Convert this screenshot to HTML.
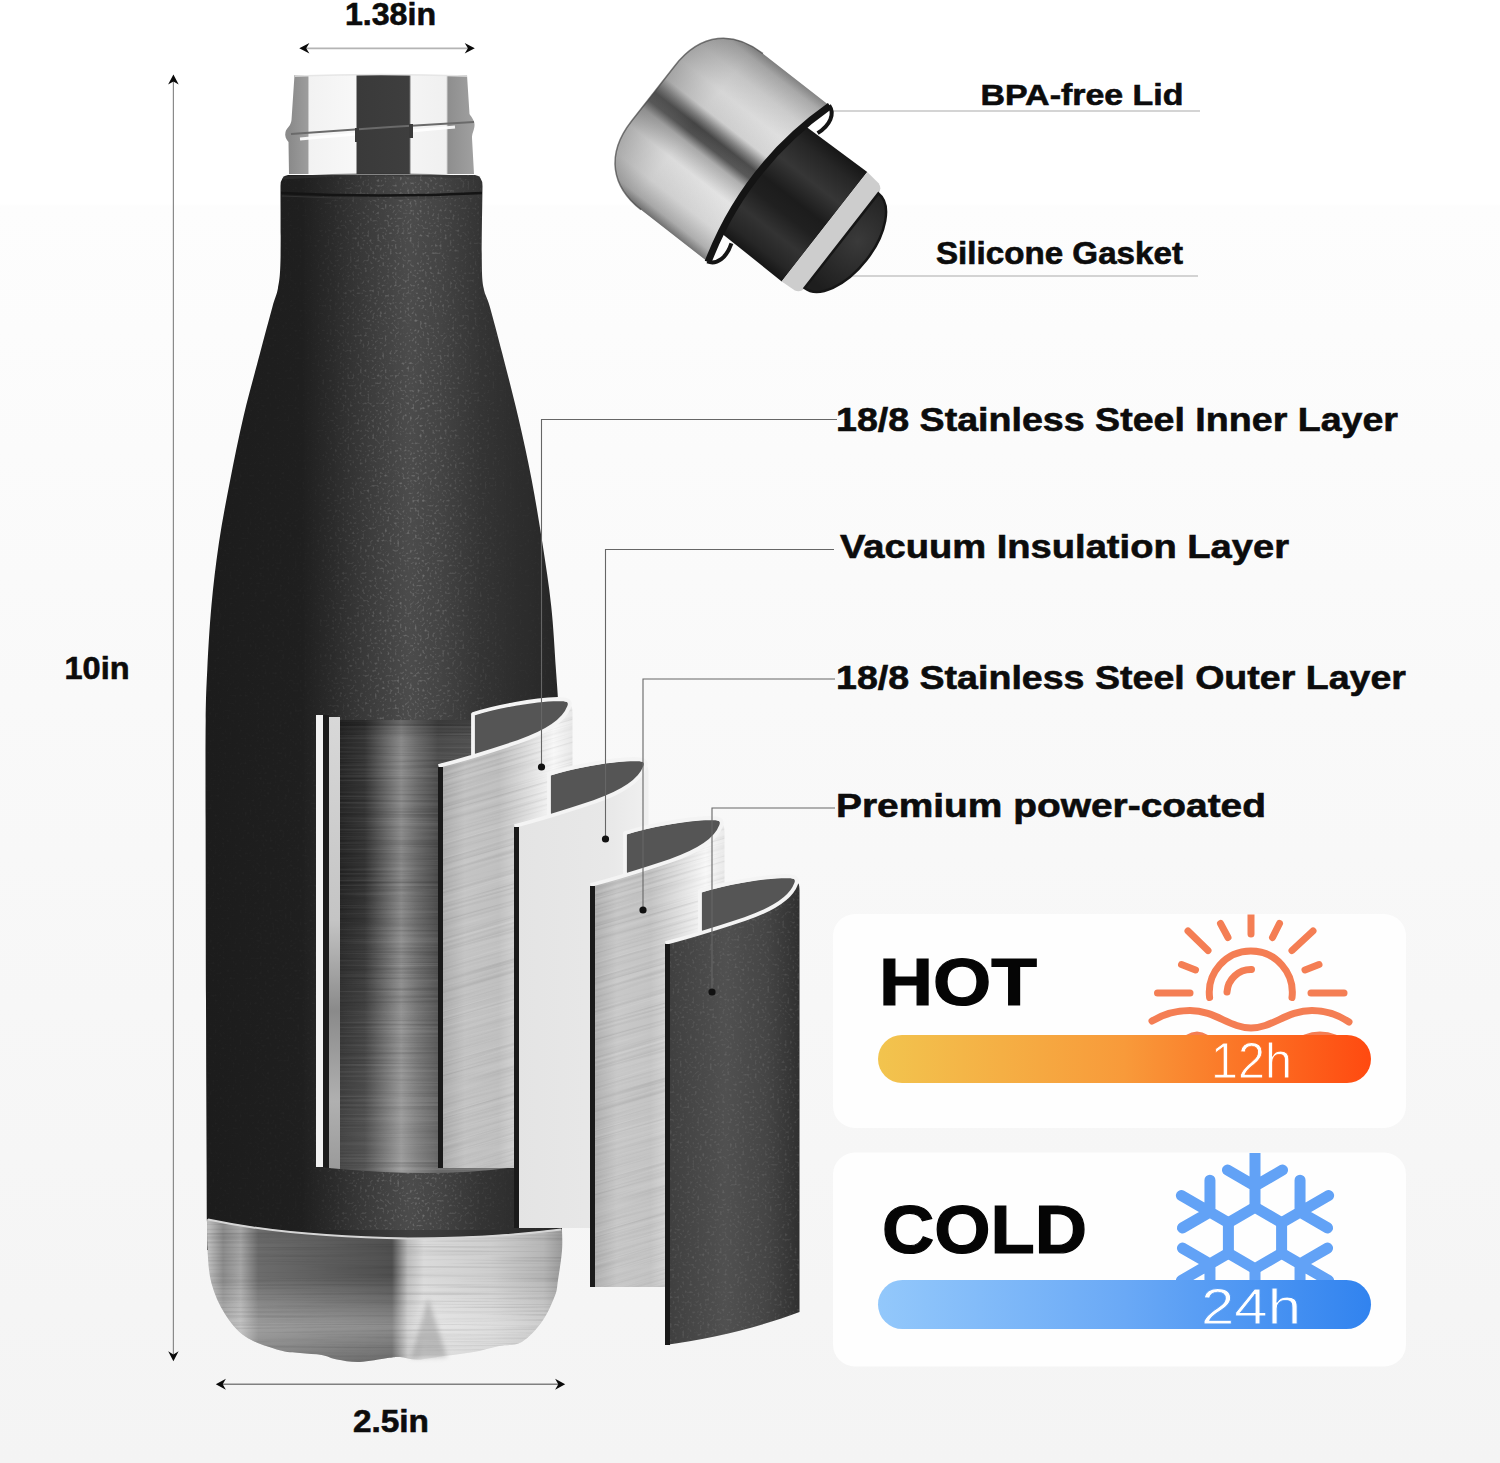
<!DOCTYPE html>
<html><head><meta charset="utf-8">
<style>
html,body{margin:0;padding:0;width:1500px;height:1463px;overflow:hidden;}
body{background:linear-gradient(to bottom,#ffffff 0px,#ffffff 204px,#fdfdfd 206px,#f9f9f9 700px,#f4f4f4 1463px);}
svg{position:absolute;left:0;top:0;display:block}
</style></head>
<body>
<svg width="1500" height="1463" viewBox="0 0 1500 1463">
<defs>
  <linearGradient id="gBody" gradientUnits="userSpaceOnUse" x1="206" y1="0" x2="562" y2="0">
    <stop offset="0" stop-color="#1c1c1c"/>
    <stop offset="0.27" stop-color="#1f1f1f"/>
    <stop offset="0.35" stop-color="#262626"/>
    <stop offset="0.46" stop-color="#333333"/>
    <stop offset="0.57" stop-color="#3e3e3e"/>
    <stop offset="0.66" stop-color="#3b3b3b"/>
    <stop offset="0.77" stop-color="#303030"/>
    <stop offset="0.9" stop-color="#2c2c2c"/>
    <stop offset="1" stop-color="#262626"/>
  </linearGradient>
  <linearGradient id="gNeck" gradientUnits="userSpaceOnUse" x1="289" y1="0" x2="474" y2="0">
    <stop offset="0" stop-color="#8a8a8a"/>
    <stop offset="0.1" stop-color="#9c9c9c"/>
    <stop offset="0.11" stop-color="#f2f2f2"/>
    <stop offset="0.36" stop-color="#f8f8f8"/>
    <stop offset="0.37" stop-color="#3a3a3a"/>
    <stop offset="0.65" stop-color="#3e3e3e"/>
    <stop offset="0.66" stop-color="#f4f4f4"/>
    <stop offset="0.85" stop-color="#f0f0f0"/>
    <stop offset="0.86" stop-color="#8e8e8e"/>
    <stop offset="1" stop-color="#a0a0a0"/>
  </linearGradient>
  <linearGradient id="gBase" gradientUnits="userSpaceOnUse" x1="209" y1="0" x2="561" y2="0">
    <stop offset="0" stop-color="#bcbcbc"/>
    <stop offset="0.04" stop-color="#8c8c8c"/>
    <stop offset="0.09" stop-color="#a6a6a6"/>
    <stop offset="0.14" stop-color="#6c6c6c"/>
    <stop offset="0.35" stop-color="#5c5c5c"/>
    <stop offset="0.52" stop-color="#505050"/>
    <stop offset="0.565" stop-color="#bdbdbd"/>
    <stop offset="0.61" stop-color="#dadada"/>
    <stop offset="0.8" stop-color="#cecece"/>
    <stop offset="0.95" stop-color="#b6b6b6"/>
    <stop offset="1" stop-color="#9c9c9c"/>
  </linearGradient>
  <linearGradient id="gBaseV" gradientUnits="userSpaceOnUse" x1="0" y1="1219" x2="0" y2="1362">
    <stop offset="0" stop-color="#fff" stop-opacity="0"/>
    <stop offset="0.4" stop-color="#fff" stop-opacity="0"/>
    <stop offset="0.75" stop-color="#fff" stop-opacity="0.35"/>
    <stop offset="1" stop-color="#fff" stop-opacity="0.15"/>
  </linearGradient>
  <linearGradient id="gInner" gradientUnits="userSpaceOnUse" x1="340" y1="0" x2="515" y2="0">
    <stop offset="0" stop-color="#262626"/>
    <stop offset="0.14" stop-color="#343434"/>
    <stop offset="0.26" stop-color="#666"/>
    <stop offset="0.35" stop-color="#8a8a8a"/>
    <stop offset="0.44" stop-color="#6c6c6c"/>
    <stop offset="0.56" stop-color="#4c4c4c"/>
    <stop offset="1" stop-color="#5a5a5a"/>
  </linearGradient>
  <linearGradient id="gSteel1" x1="0" y1="0" x2="1" y2="0">
    <stop offset="0" stop-color="#a8a8a8"/>
    <stop offset="0.2" stop-color="#c4c4c4"/>
    <stop offset="0.45" stop-color="#c0c0c0"/>
    <stop offset="0.7" stop-color="#e2e2e2"/>
    <stop offset="0.86" stop-color="#f8f8f8"/>
    <stop offset="1" stop-color="#e8e8e8"/>
  </linearGradient>
  <linearGradient id="gSteel3" x1="0" y1="0" x2="1" y2="0">
    <stop offset="0" stop-color="#acacac"/>
    <stop offset="0.2" stop-color="#c8c8c8"/>
    <stop offset="0.45" stop-color="#c4c4c4"/>
    <stop offset="0.7" stop-color="#e4e4e4"/>
    <stop offset="0.86" stop-color="#f8f8f8"/>
    <stop offset="1" stop-color="#eaeaea"/>
  </linearGradient>
  <linearGradient id="gVac" x1="0" y1="0" x2="1" y2="0">
    <stop offset="0" stop-color="#e4e4e4"/>
    <stop offset="0.7" stop-color="#e8e8e8"/>
    <stop offset="1" stop-color="#f0f0f0"/>
  </linearGradient>
  <linearGradient id="gCoat" x1="0" y1="0" x2="1" y2="0">
    <stop offset="0" stop-color="#3e3e3e"/>
    <stop offset="0.45" stop-color="#505050"/>
    <stop offset="0.75" stop-color="#454545"/>
    <stop offset="1" stop-color="#303030"/>
  </linearGradient>
  <linearGradient id="gHot" gradientUnits="userSpaceOnUse" x1="878" y1="0" x2="1371" y2="0">
    <stop offset="0" stop-color="#f2c44e"/>
    <stop offset="0.5" stop-color="#f89a3a"/>
    <stop offset="1" stop-color="#ff4a10"/>
  </linearGradient>
  <linearGradient id="gCold" gradientUnits="userSpaceOnUse" x1="878" y1="0" x2="1371" y2="0">
    <stop offset="0" stop-color="#93c8fb"/>
    <stop offset="0.5" stop-color="#6aa9f6"/>
    <stop offset="1" stop-color="#3183ef"/>
  </linearGradient>
  <linearGradient id="gCap" gradientUnits="userSpaceOnUse" x1="0" y1="-99" x2="0" y2="99">
    <stop offset="0" stop-color="#7a7a7a"/>
    <stop offset="0.05" stop-color="#a4a4a4"/>
    <stop offset="0.16" stop-color="#cacaca"/>
    <stop offset="0.28" stop-color="#dedede"/>
    <stop offset="0.4" stop-color="#d2d2d2"/>
    <stop offset="0.45" stop-color="#7a7a7a"/>
    <stop offset="0.49" stop-color="#3c3c3c"/>
    <stop offset="0.54" stop-color="#4a4a4a"/>
    <stop offset="0.59" stop-color="#aaaaaa"/>
    <stop offset="0.7" stop-color="#e4e4e4"/>
    <stop offset="0.85" stop-color="#d4d4d4"/>
    <stop offset="0.95" stop-color="#a8a8a8"/>
    <stop offset="1" stop-color="#686868"/>
  </linearGradient>
  <linearGradient id="gPlug" gradientUnits="userSpaceOnUse" x1="0" y1="-70" x2="0" y2="70">
    <stop offset="0" stop-color="#161616"/>
    <stop offset="0.12" stop-color="#262626"/>
    <stop offset="0.3" stop-color="#363636"/>
    <stop offset="0.48" stop-color="#1c1c1c"/>
    <stop offset="0.6" stop-color="#202020"/>
    <stop offset="0.75" stop-color="#333"/>
    <stop offset="0.9" stop-color="#262626"/>
    <stop offset="1" stop-color="#141414"/>
  </linearGradient>
  <linearGradient id="gCapU" gradientUnits="userSpaceOnUse" x1="-147" y1="0" x2="0" y2="0">
    <stop offset="0" stop-color="#666" stop-opacity="0.45"/>
    <stop offset="0.35" stop-color="#888" stop-opacity="0.1"/>
    <stop offset="1" stop-color="#fff" stop-opacity="0.1"/>
  </linearGradient>
  <radialGradient id="gFace" gradientUnits="userSpaceOnUse" cx="105" cy="-10" r="60">
    <stop offset="0" stop-color="#3a3a3a"/>
    <stop offset="1" stop-color="#1e1e1e"/>
  </radialGradient>
  <filter id="fSpeck" x="0" y="0" width="1" height="1" filterUnits="objectBoundingBox">
    <feTurbulence type="fractalNoise" baseFrequency="0.9" numOctaves="1" seed="7"/>
    <feColorMatrix type="matrix" values="0 0 0 0 1  0 0 0 0 1  0 0 0 0 1  3 0 0 0 -1.75"/>
    <feComposite in2="SourceGraphic" operator="in"/>
  </filter>
  <filter id="fBrush" x="0" y="0" width="1" height="1" filterUnits="objectBoundingBox">
    <feTurbulence type="fractalNoise" baseFrequency="0.006 0.45" numOctaves="2" seed="11"/>
    <feColorMatrix type="matrix" values="0 0 0 0 0  0 0 0 0 0  0 0 0 0 0  2.2 0 0 0 -1.0"/>
    <feComposite in2="SourceGraphic" operator="in"/>
  </filter>
  <filter id="fBrushW" x="0" y="0" width="1" height="1" filterUnits="objectBoundingBox">
    <feTurbulence type="fractalNoise" baseFrequency="0.006 0.45" numOctaves="2" seed="23"/>
    <feColorMatrix type="matrix" values="0 0 0 0 1  0 0 0 0 1  0 0 0 0 1  2.2 0 0 0 -1.0"/>
    <feComposite in2="SourceGraphic" operator="in"/>
  </filter>
  <radialGradient id="gHi" gradientUnits="userSpaceOnUse" cx="425" cy="560" r="260" gradientTransform="translate(425 560) scale(0.28 1) translate(-425 -560)">
    <stop offset="0" stop-color="#fff" stop-opacity="0.09"/>
    <stop offset="0.6" stop-color="#fff" stop-opacity="0.04"/>
    <stop offset="1" stop-color="#fff" stop-opacity="0"/>
  </radialGradient>
  <clipPath id="clipPiece"><path d="M0,0 C20,-5 50,-14 80,-24 C106,-33 126,-45 131,-59 C133,-63 134.5,-60 134.5,-54 L134.5,401 L0,401 Z"/></clipPath>
  <linearGradient id="gStripe" x1="0" y1="0" x2="0" y2="1">
    <stop offset="0" stop-color="#d8d8d8"/>
    <stop offset="0.45" stop-color="#c4c4c4"/>
    <stop offset="0.65" stop-color="#8a8a8a"/>
    <stop offset="0.85" stop-color="#b0b0b0"/>
    <stop offset="1" stop-color="#9a9a9a"/>
  </linearGradient>
  <linearGradient id="gInTop" x1="0" y1="0" x2="0" y2="1">
    <stop offset="0" stop-color="#000" stop-opacity="0.25"/>
    <stop offset="1" stop-color="#000" stop-opacity="0"/>
  </linearGradient>
  <radialGradient id="gHi2">
    <stop offset="0" stop-color="#fff" stop-opacity="0.1"/>
    <stop offset="0.6" stop-color="#fff" stop-opacity="0.05"/>
    <stop offset="1" stop-color="#fff" stop-opacity="0"/>
  </radialGradient>
  <radialGradient id="gHiM">
    <stop offset="0" stop-color="#fff" stop-opacity="1"/>
    <stop offset="1" stop-color="#fff" stop-opacity="0"/>
  </radialGradient>
  <mask id="mHi" maskUnits="userSpaceOnUse" x="0" y="0" width="1500" height="1463"><ellipse cx="440" cy="670" rx="80" ry="100" fill="url(#gHiM)"/></mask>
  <clipPath id="clipBody"><path d="M288,175 L475,175 Q482.5,176 482.5,186 C482.4,198.3 481.6,243.0 481.8,260.0 C482.0,277.0 482.2,280.2 483.6,288.0 C485.0,295.8 486.8,296.0 489.9,307.0 C493.0,318.0 497.7,335.7 502.4,354.0 C507.1,372.3 513.3,396.0 518.2,417.0 C523.1,438.0 527.7,459.0 531.7,480.0 C535.7,501.0 539.1,522.0 542.4,543.0 C545.6,564.0 549.0,585.0 551.2,606.0 C553.5,627.0 554.6,650.0 555.9,669.0 C557.2,688.0 558.1,694.8 559.0,720.0 C559.9,745.2 560.5,773.3 561.0,820.0 C561.5,866.7 561.8,930.0 562.0,1000.0 C562.2,1070.0 562.0,1200.0 562.0,1240.0 L562,1250 L207,1250 L207,1222 C206.8,1185.0 206.2,1067.0 206.0,1000.0 C205.8,933.0 205.7,866.7 205.6,820.0 C205.5,773.3 205.4,745.2 205.7,720.0 C206.0,694.8 206.4,688.0 207.3,669.0 C208.2,650.0 209.5,627.0 211.4,606.0 C213.3,585.0 215.8,564.0 218.9,543.0 C222.0,522.0 226.1,501.0 230.2,480.0 C234.3,459.0 238.5,438.0 243.4,417.0 C248.3,396.0 255.0,372.3 259.8,354.0 C264.6,335.7 269.4,318.0 272.4,307.0 C275.4,296.0 276.6,295.8 278.0,288.0 C279.4,280.2 280.1,277.0 280.5,260.0 C280.9,243.0 280.5,198.3 280.5,186.0 Q280.5,176 288,175 Z"/></clipPath>
  <filter id="fSpeck2" x="0" y="0" width="1" height="1" filterUnits="objectBoundingBox">
    <feTurbulence type="fractalNoise" baseFrequency="0.4" numOctaves="1" seed="4"/>
    <feColorMatrix type="matrix" values="0 0 0 0 1  0 0 0 0 1  0 0 0 0 1  4 0 0 0 -2.2"/>
    <feComposite in2="SourceGraphic" operator="in"/>
  </filter>
  <linearGradient id="gBand" gradientUnits="userSpaceOnUse" x1="300" y1="0" x2="520" y2="0">
    <stop offset="0" stop-color="#fff" stop-opacity="0"/>
    <stop offset="0.3" stop-color="#fff" stop-opacity="0.04"/>
    <stop offset="0.5" stop-color="#fff" stop-opacity="0.07"/>
    <stop offset="0.7" stop-color="#fff" stop-opacity="0.035"/>
    <stop offset="1" stop-color="#fff" stop-opacity="0"/>
  </linearGradient>
  <linearGradient id="gBandM" gradientUnits="userSpaceOnUse" x1="310" y1="0" x2="510" y2="0">
    <stop offset="0" stop-color="#fff" stop-opacity="0"/>
    <stop offset="0.35" stop-color="#fff" stop-opacity="0.8"/>
    <stop offset="0.55" stop-color="#fff" stop-opacity="1"/>
    <stop offset="0.8" stop-color="#fff" stop-opacity="0.4"/>
    <stop offset="1" stop-color="#fff" stop-opacity="0"/>
  </linearGradient>
  <mask id="mBand" maskUnits="userSpaceOnUse" x="0" y="0" width="1500" height="1463"><rect x="300" y="170" width="240" height="1060" fill="url(#gBandM)"/></mask>
  <filter id="fBlur2" x="-50%" y="-50%" width="200%" height="200%"><feGaussianBlur stdDeviation="2.5"/></filter>
  <linearGradient id="gInBot" x1="0" y1="0" x2="0" y2="1">
    <stop offset="0" stop-color="#fff" stop-opacity="0"/>
    <stop offset="1" stop-color="#fff" stop-opacity="0.16"/>
  </linearGradient>
  <clipPath id="clipHot"><rect x="833" y="914.5" width="573" height="214" rx="22"/></clipPath>
  <clipPath id="clipCold"><rect x="834" y="1153" width="572" height="140"/></clipPath>
</defs>

<!-- dimension lines -->
<g fill="none">
  <line x1="173.4" y1="78" x2="173.4" y2="1358" stroke="#8a8a8a" stroke-width="1.2"/>
  <line x1="303" y1="48.3" x2="471" y2="48.3" stroke="#b4b4b4" stroke-width="1.8"/>
  <line x1="219" y1="1384.3" x2="561" y2="1384.3" stroke="#808080" stroke-width="1.4"/>
</g>
<g fill="#0a0a0a">
  <path d="M173.4,74.5 L178.7,84.6 L173.4,81.4 L168.1,84.6 Z"/>
  <path d="M173.4,1361.3 L178.6,1351.2 L173.4,1354.4 L168.2,1351.2 Z"/>
  <path d="M299.3,48.3 L309.4,43 L306.2,48.3 L309.4,53.6 Z"/>
  <path d="M474.8,48.3 L464.7,43 L467.9,48.3 L464.7,53.6 Z"/>
  <path d="M215.8,1384.3 L225.9,1378.8 L222.7,1384.3 L225.9,1389.8 Z"/>
  <path d="M565.2,1384.3 L555.1,1378.8 L558.3,1384.3 L555.1,1389.8 Z"/>
</g>

<!-- bottle -->
<g id="bottle">
  <path d="M294.5,75 L467,75 L469.5,114 C472,118 475,121 474.5,126 C474,131 472,133 472,138 L474,174 L289,174 L288.5,142 C286,139 284.5,136 285.5,132 C286.5,128 291,126 291.5,120 Z" fill="url(#gNeck)"/>
  <path d="M295,76 Q381,73 467,76" stroke="#e6e6e6" stroke-width="1.6" fill="none"/>
  <path d="M291,134 C330,131 400,126 474,122" stroke="#6a6a6a" stroke-width="2.2" fill="none"/>
  <path d="M300,139 C330,136 345,135 357,134 M411,131 C430,129 445,128 455,127" stroke="#ffffff" stroke-width="3" fill="none" opacity="0.9"/>
  <path d="M357,128 L357,142 M411,124 L411,138" stroke="#3a3a3a" stroke-width="4" fill="none"/>
  <path d="M288,175 L475,175 Q482.5,176 482.5,186 C482.4,198.3 481.6,243.0 481.8,260.0 C482.0,277.0 482.2,280.2 483.6,288.0 C485.0,295.8 486.8,296.0 489.9,307.0 C493.0,318.0 497.7,335.7 502.4,354.0 C507.1,372.3 513.3,396.0 518.2,417.0 C523.1,438.0 527.7,459.0 531.7,480.0 C535.7,501.0 539.1,522.0 542.4,543.0 C545.6,564.0 549.0,585.0 551.2,606.0 C553.5,627.0 554.6,650.0 555.9,669.0 C557.2,688.0 558.1,694.8 559.0,720.0 C559.9,745.2 560.5,773.3 561.0,820.0 C561.5,866.7 561.8,930.0 562.0,1000.0 C562.2,1070.0 562.0,1200.0 562.0,1240.0 L562,1250 L207,1250 L207,1222 C206.8,1185.0 206.2,1067.0 206.0,1000.0 C205.8,933.0 205.7,866.7 205.6,820.0 C205.5,773.3 205.4,745.2 205.7,720.0 C206.0,694.8 206.4,688.0 207.3,669.0 C208.2,650.0 209.5,627.0 211.4,606.0 C213.3,585.0 215.8,564.0 218.9,543.0 C222.0,522.0 226.1,501.0 230.2,480.0 C234.3,459.0 238.5,438.0 243.4,417.0 C248.3,396.0 255.0,372.3 259.8,354.0 C264.6,335.7 269.4,318.0 272.4,307.0 C275.4,296.0 276.6,295.8 278.0,288.0 C279.4,280.2 280.1,277.0 280.5,260.0 C280.9,243.0 280.5,198.3 280.5,186.0 Q280.5,176 288,175 Z" fill="url(#gBody)"/>
  <g clip-path="url(#clipBody)">
    <rect x="200" y="170" width="370" height="1060" fill="url(#gBand)"/>
    <g mask="url(#mBand)"><rect x="300" y="170" width="240" height="1060" fill="#fff" filter="url(#fSpeck2)" opacity="0.2"/></g>
    <rect x="200" y="170" width="370" height="1060" fill="#fff" filter="url(#fSpeck2)" opacity="0.025"/>
  </g>
  <path d="M281,193 Q381,198 482,193" stroke="#141414" stroke-width="2.5" fill="none"/>
  <path d="M282,196 Q381,201 481,196" stroke="#3a3a3a" stroke-width="1" fill="none" opacity="0.7"/>
  <path d="M283,178 Q381,171 480,178" stroke="#333" stroke-width="3" fill="none" opacity="0.6"/>
  <path d="M207,1219 C260,1230 330,1237 408,1238 C480,1238 530,1233 562,1229 C562.0,1232.6 562.7,1242.2 562.0,1250.7 C561.3,1259.2 559.2,1272.5 558.0,1280.0 C556.8,1287.5 557.5,1289.1 554.8,1296.0 C552.1,1302.9 547.5,1313.9 542.0,1321.6 C536.5,1329.2 529.0,1337.8 521.8,1341.9 C514.6,1346.0 507.0,1344.3 499.0,1346.0 C491.0,1347.7 482.6,1350.4 473.7,1352.0 C464.8,1353.6 455.1,1354.5 445.8,1355.8 C436.5,1357.1 425.6,1359.4 418.0,1359.6 C410.4,1359.8 405.1,1357.3 400.0,1357.0 C394.9,1356.7 394.3,1357.2 387.6,1358.0 C380.9,1358.8 368.1,1361.7 359.7,1362.0 C351.3,1362.3 343.3,1360.8 337.0,1359.6 C330.7,1358.4 327.9,1356.1 321.7,1355.0 C315.5,1353.9 307.2,1353.8 300.0,1353.0 C292.8,1352.2 287.7,1352.7 278.6,1350.0 C269.6,1347.3 254.6,1342.8 245.7,1336.8 C236.8,1330.8 230.7,1322.9 225.0,1314.0 C219.3,1305.1 214.4,1294.3 211.5,1283.6 C208.6,1272.9 208.2,1260.8 207.5,1250.0 C206.8,1239.2 207.1,1224.2 207.0,1219.0 Z" fill="url(#gBase)"/>
  <path d="M207,1219 C260,1230 330,1237 408,1238 C480,1238 530,1233 562,1229 C562.0,1232.6 562.7,1242.2 562.0,1250.7 C561.3,1259.2 559.2,1272.5 558.0,1280.0 C556.8,1287.5 557.5,1289.1 554.8,1296.0 C552.1,1302.9 547.5,1313.9 542.0,1321.6 C536.5,1329.2 529.0,1337.8 521.8,1341.9 C514.6,1346.0 507.0,1344.3 499.0,1346.0 C491.0,1347.7 482.6,1350.4 473.7,1352.0 C464.8,1353.6 455.1,1354.5 445.8,1355.8 C436.5,1357.1 425.6,1359.4 418.0,1359.6 C410.4,1359.8 405.1,1357.3 400.0,1357.0 C394.9,1356.7 394.3,1357.2 387.6,1358.0 C380.9,1358.8 368.1,1361.7 359.7,1362.0 C351.3,1362.3 343.3,1360.8 337.0,1359.6 C330.7,1358.4 327.9,1356.1 321.7,1355.0 C315.5,1353.9 307.2,1353.8 300.0,1353.0 C292.8,1352.2 287.7,1352.7 278.6,1350.0 C269.6,1347.3 254.6,1342.8 245.7,1336.8 C236.8,1330.8 230.7,1322.9 225.0,1314.0 C219.3,1305.1 214.4,1294.3 211.5,1283.6 C208.6,1272.9 208.2,1260.8 207.5,1250.0 C206.8,1239.2 207.1,1224.2 207.0,1219.0 Z" fill="url(#gBaseV)"/>
  <path d="M207,1219 C260,1230 330,1237 408,1238 C480,1238 530,1233 562,1229 C562.0,1232.6 562.7,1242.2 562.0,1250.7 C561.3,1259.2 559.2,1272.5 558.0,1280.0 C556.8,1287.5 557.5,1289.1 554.8,1296.0 C552.1,1302.9 547.5,1313.9 542.0,1321.6 C536.5,1329.2 529.0,1337.8 521.8,1341.9 C514.6,1346.0 507.0,1344.3 499.0,1346.0 C491.0,1347.7 482.6,1350.4 473.7,1352.0 C464.8,1353.6 455.1,1354.5 445.8,1355.8 C436.5,1357.1 425.6,1359.4 418.0,1359.6 C410.4,1359.8 405.1,1357.3 400.0,1357.0 C394.9,1356.7 394.3,1357.2 387.6,1358.0 C380.9,1358.8 368.1,1361.7 359.7,1362.0 C351.3,1362.3 343.3,1360.8 337.0,1359.6 C330.7,1358.4 327.9,1356.1 321.7,1355.0 C315.5,1353.9 307.2,1353.8 300.0,1353.0 C292.8,1352.2 287.7,1352.7 278.6,1350.0 C269.6,1347.3 254.6,1342.8 245.7,1336.8 C236.8,1330.8 230.7,1322.9 225.0,1314.0 C219.3,1305.1 214.4,1294.3 211.5,1283.6 C208.6,1272.9 208.2,1260.8 207.5,1250.0 C206.8,1239.2 207.1,1224.2 207.0,1219.0 Z" fill="#000" filter="url(#fBrush)" opacity="0.12"/>
  <path d="M428,1298 L447,1357 L411,1358 Z" fill="#707070" opacity="0.35" filter="url(#fBlur2)"/>
  <path d="M208,1219.5 C260,1230.5 330,1237.5 408,1238.5 C480,1238.5 530,1233.5 561,1229.5" stroke="#d6d6d6" stroke-width="2" fill="none"/>
  <!-- cutout -->
  <path d="M316,715 L323,715 L323,1167 L316,1167 Z" fill="#f2f2f2"/>
  <path d="M323,715 L329,715 L329,1168 L323,1167 Z" fill="#1c1c1c"/>
  <path d="M329,717 L340,717 L340,1169 L329,1168 Z" fill="url(#gStripe)"/>
  <path d="M340,720 L515,720 L515,1167 Q440,1178 340,1169 Z" fill="url(#gInner)"/>
  <path d="M340,720 L515,720 L515,1167 Q440,1178 340,1169 Z" fill="#000" filter="url(#fBrush)" opacity="0.18"/>
  <path d="M340,720 L515,720 L515,1167 Q440,1178 340,1169 Z" fill="#fff" filter="url(#fBrushW)" opacity="0.1"/>
  <path d="M340,720 L515,720 L515,740 L340,740 Z" fill="url(#gInTop)"/>
  <path d="M340,900 L515,900 L515,1167 Q440,1178 340,1169 Z" fill="url(#gInBot)"/>
</g>

<!-- pieces -->
<g transform="translate(438,767)">
<path d="M35,-51 C60,-59 95,-65.5 120,-66.5 C128,-66.5 133,-65 132,-59 C126,-45 106,-33 80,-24 C50,-14 35,-10 35,-10 Z" fill="#555"/>
<path d="M0,0 C20,-5 50,-14 80,-24 C106,-33 126,-45 131,-59 C133,-63 134.5,-60 134.5,-54 L134.5,401 L0,401 Z" fill="url(#gSteel1)"/>
<g clip-path="url(#clipPiece)"><rect x="-80" y="-60" width="300" height="540" transform="rotate(-16 67 200)" fill="#000" filter="url(#fBrush)" opacity="0.1"/><rect x="-80" y="-60" width="300" height="540" transform="rotate(-16 67 200)" fill="#fff" filter="url(#fBrushW)" opacity="0.14"/></g>
<path d="M0.5,-1 C20,-6 50,-15 80,-25 C106,-34 126,-46 131,-60 C134,-67 128,-68 120,-68 C95,-67 60,-61 35,-53 L35,-10" fill="none" stroke="#f4f4f4" stroke-width="3.8" stroke-linejoin="round"/>
<rect x="0" y="0" width="5" height="401" fill="#1a1a1a"/>
</g>
<g transform="translate(514,827)">
<path d="M35,-51 C60,-59 95,-65.5 120,-66.5 C128,-66.5 133,-65 132,-59 C126,-45 106,-33 80,-24 C50,-14 35,-10 35,-10 Z" fill="#555"/>
<path d="M0,0 C20,-5 50,-14 80,-24 C106,-33 126,-45 131,-59 C133,-63 134.5,-60 134.5,-54 L134.5,401 L0,401 Z" fill="url(#gVac)"/>

<path d="M0.5,-1 C20,-6 50,-15 80,-25 C106,-34 126,-46 131,-60 C134,-67 128,-68 120,-68 C95,-67 60,-61 35,-53 L35,-10" fill="none" stroke="#f4f4f4" stroke-width="3.8" stroke-linejoin="round"/>
<rect x="0" y="0" width="5" height="401" fill="#1a1a1a"/>
</g>
<g transform="translate(590,886)">
<path d="M35,-51 C60,-59 95,-65.5 120,-66.5 C128,-66.5 133,-65 132,-59 C126,-45 106,-33 80,-24 C50,-14 35,-10 35,-10 Z" fill="#555"/>
<path d="M0,0 C20,-5 50,-14 80,-24 C106,-33 126,-45 131,-59 C133,-63 134.5,-60 134.5,-54 L134.5,401 L0,401 Z" fill="url(#gSteel3)"/>
<g clip-path="url(#clipPiece)"><rect x="-80" y="-60" width="300" height="540" transform="rotate(-16 67 200)" fill="#000" filter="url(#fBrush)" opacity="0.1"/><rect x="-80" y="-60" width="300" height="540" transform="rotate(-16 67 200)" fill="#fff" filter="url(#fBrushW)" opacity="0.14"/></g>
<path d="M0.5,-1 C20,-6 50,-15 80,-25 C106,-34 126,-46 131,-60 C134,-67 128,-68 120,-68 C95,-67 60,-61 35,-53 L35,-10" fill="none" stroke="#f4f4f4" stroke-width="3.8" stroke-linejoin="round"/>
<rect x="0" y="0" width="5" height="401" fill="#1a1a1a"/>
</g>
<g transform="translate(665,944)">
<path d="M35,-51 C60,-59 95,-65.5 120,-66.5 C128,-66.5 133,-65 132,-59 C126,-45 106,-33 80,-24 C50,-14 35,-10 35,-10 Z" fill="#555"/>
<path d="M0,0 C20,-5 50,-14 80,-24 C106,-33 126,-45 131,-59 C133,-63 134.5,-60 134.5,-54 L134.5,368 C95,383 45,395 0,401 Z" fill="url(#gCoat)"/>
<path d="M0,0 C20,-5 50,-14 80,-24 C106,-33 126,-45 131,-59 C133,-63 134.5,-60 134.5,-54 L134.5,368 C95,383 45,395 0,401 Z" fill="#fff" filter="url(#fSpeck2)" opacity="0.1"/>
<path d="M0.5,-1 C20,-6 50,-15 80,-25 C106,-34 126,-46 131,-60 C134,-67 128,-68 120,-68 C95,-67 60,-61 35,-53 L35,-10" fill="none" stroke="#f4f4f4" stroke-width="3.8" stroke-linejoin="round"/>
<rect x="0" y="0" width="5" height="401" fill="#1a1a1a"/>
</g>

<!-- callouts -->
<g stroke="#666" stroke-width="1.1" fill="none">
  <path d="M541.5,767 L541.5,419.5 L837,419.5"/>
  <path d="M605.5,839 L605.5,549.5 L834,549.5"/>
  <path d="M643,910 L643,679 L835,679"/>
  <path d="M712,992 L712,808 L835,808"/>
  <path d="M830,111 L1200,111" stroke="#aaa"/>
  <path d="M823,276 L1198,276" stroke="#aaa"/>
</g>
<g fill="#111">
  <circle cx="541.5" cy="767" r="3.6"/>
  <circle cx="605.5" cy="839" r="3.6"/>
  <circle cx="643" cy="910" r="3.6"/>
  <circle cx="712" cy="992" r="3.6"/>
</g>

<!-- labels -->
<g font-family="Liberation Sans" font-weight="bold" fill="#0c0c0c" stroke="#0c0c0c" stroke-width="0.6">
  <text x="345" y="25" font-size="30.5" textLength="91" lengthAdjust="spacingAndGlyphs">1.38in</text>
  <text x="64.5" y="679" font-size="30.5" textLength="65" lengthAdjust="spacingAndGlyphs">10in</text>
  <text x="353" y="1432" font-size="30.5" textLength="76" lengthAdjust="spacingAndGlyphs">2.5in</text>
  <text x="980.5" y="104.5" font-size="30" textLength="203" lengthAdjust="spacingAndGlyphs">BPA-free Lid</text>
  <text x="936" y="264" font-size="30.5" textLength="247" lengthAdjust="spacingAndGlyphs">Silicone Gasket</text>
  <text x="836" y="431" font-size="34" textLength="562" lengthAdjust="spacingAndGlyphs">18/8 Stainless Steel Inner Layer</text>
  <text x="840" y="558" font-size="34" textLength="449" lengthAdjust="spacingAndGlyphs">Vacuum Insulation Layer</text>
  <text x="836" y="689" font-size="34" textLength="570" lengthAdjust="spacingAndGlyphs">18/8 Stainless Steel Outer Layer</text>
  <text x="836" y="817" font-size="34" textLength="430" lengthAdjust="spacingAndGlyphs">Premium power-coated</text>
</g>

<!-- cards -->
<rect x="833" y="914" width="573" height="214" rx="22" fill="#fefefe"/>
<rect x="833" y="1152.5" width="573" height="214" rx="22" fill="#fefefe"/>
<g font-family="Liberation Sans" font-weight="bold" fill="#050505" stroke="#050505" stroke-width="1.2">
  <text x="879" y="1005" font-size="66" textLength="158" lengthAdjust="spacingAndGlyphs">HOT</text>
  <text x="882" y="1253" font-size="68" textLength="205" lengthAdjust="spacingAndGlyphs">COLD</text>
</g>

<!-- sun -->
<g clip-path="url(#clipHot)" stroke="#f47e54" stroke-width="7" stroke-linecap="round" fill="none">
  <path d="M1209.6,997.5 A41.5,41.5 0 1 1 1292,997.5"/>
  <path d="M1227,992 A24,24 0 0 1 1251.5,969.5"/>
  <path d="M1157.5,993 L1190,993"/>
  <path d="M1311,993 L1344,993"/>
  <path d="M1181.5,964.5 L1195.5,970"/>
  <path d="M1305,970 L1319,964.5"/>
  <path d="M1188,931 L1208,950.5"/>
  <path d="M1313,931 L1292,950.5"/>
  <path d="M1220.5,923.5 L1228,937.5"/>
  <path d="M1279.5,923.5 L1272.5,937.5"/>
  <path d="M1251,900 L1251,934"/>
  <path d="M1152,1021 C1165,1013 1178,1010.5 1190,1010.5 C1215,1010.5 1230,1028 1251,1028 C1272,1028 1287,1010.5 1312,1010.5 C1324,1010.5 1337,1014 1349,1022"/>
  <path d="M1188,1038 Q1197,1032 1206,1038 M1305,1038 Q1320,1032 1335,1038"/>
</g>
<rect x="878" y="1035" width="493" height="48" rx="24" fill="url(#gHot)"/>
<text x="1211" y="1078" font-family="Liberation Sans" font-size="50" fill="#fff" stroke="url(#gHot)" stroke-width="0.8" textLength="81" lengthAdjust="spacingAndGlyphs">12h</text>

<!-- snowflake -->
<g clip-path="url(#clipCold)" stroke="#62a2f6" stroke-width="11" stroke-linecap="round" stroke-linejoin="round" fill="none">
  <g transform="translate(1255,1238)">
    <path d="M0,-30.7 L26.6,-15.35 L26.6,15.35 L0,30.7 L-26.6,15.35 L-26.6,-15.35 Z"/>
    <g id="arm"><path d="M0,-30.7 L0,-85 M0,-52 L-27.5,-67.9 M0,-52 L27.5,-67.9"/></g>
    <use href="#arm" transform="rotate(60)"/>
    <use href="#arm" transform="rotate(120)"/>
    <use href="#arm" transform="rotate(180)"/>
    <use href="#arm" transform="rotate(240)"/>
    <use href="#arm" transform="rotate(300)"/>
  </g>
</g>
<rect x="878" y="1280" width="493" height="49" rx="24.5" fill="url(#gCold)"/>
<text x="1201" y="1323.5" font-family="Liberation Sans" font-size="50" fill="#fff" stroke="url(#gCold)" stroke-width="0.8" textLength="100" lengthAdjust="spacingAndGlyphs">24h</text>

<!-- lid -->
<g id="lid" transform="translate(769,184) rotate(38)">
  <path d="M-2,-99 L-85,-99 C-122,-99 -147,-78 -147,-35 L-147,35 C-147,78 -122,99 -85,99 L-2,99 Q-30,0 -2,-99 Z" fill="url(#gCap)"/>
  <path d="M-2,-99 L-85,-99 C-122,-99 -147,-78 -147,-35 L-147,35 C-147,78 -122,99 -85,99 L-2,99 Q-30,0 -2,-99 Z" fill="url(#gCapU)"/>
  <path d="M-85,-99 C-122,-99 -147,-78 -147,-35 L-147,35 C-147,78 -122,99 -85,99" fill="none" stroke="#444" stroke-width="1.5" opacity="0.7"/>
  <path d="M-8,-68 L70,-70 L70,69 L-8,68 Q-22,0 -8,-68 Z" fill="url(#gPlug)"/>
  <path d="M0,-99 Q-30,0 0,99" fill="none" stroke="#141414" stroke-width="7"/>
  <path d="M-1,-99 C9,-96 12,-84 7,-70" fill="none" stroke="#141414" stroke-width="4"/>
  <path d="M-1,99 C9,96 12,84 7,70" fill="none" stroke="#141414" stroke-width="4"/>
  <path d="M70,-70 L86,-68 Q92,-66 92,-60 L92,60 Q92,66 86,68 L70,69 Z" fill="#cdcdcd"/>
  <path d="M92,-60 A31.5,60 0 0 1 92,60 Z" fill="url(#gFace)" stroke="#161616" stroke-width="2.5"/>
</g>
</svg>
</body></html>
